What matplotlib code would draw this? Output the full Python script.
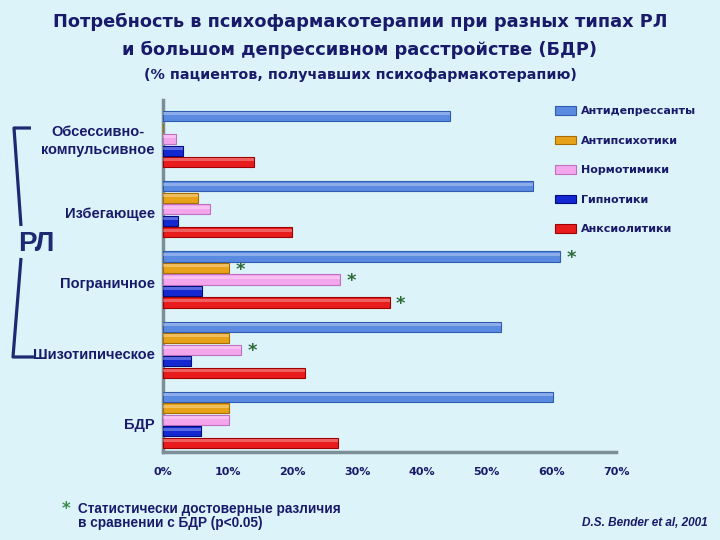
import matplotlib
matplotlib.use("Agg")
import matplotlib.pyplot as plt
from matplotlib.lines import Line2D
from matplotlib.transforms import ScaledTranslation
import numpy as np

categories = ["Обсессивно-\nкомпульсивное", "Избегающее", "Пограничное", "Шизотипическое", "БДР"]
series = ["Антидепрессанты", "Антипсихотики", "Нормотимики", "Гипнотики", "Анксиолитики"]
antidepressants = [44.4, 57.2, 61.4, 52.2, 60.3]
antipsychotics = [0.0, 5.4, 10.2, 10.2, 10.2]
normotimics = [2.0, 7.3, 27.4, 12.0, 10.2]
hypnotics = [3.1, 2.3, 6.0, 4.3, 5.9]
anxiolytics = [14.0, 20.0, 35.0, 22.0, 27.0]
# significance vs БДР (category index, series index)
significant = [(2, 0), (2, 1), (2, 2), (2, 4), (3, 2)]
xticks = [0, 10, 20, 30, 40, 50, 60, 70]
xticklabels = ["0%", "10%", "20%", "30%", "40%", "50%", "60%", "70%"]

values = [antidepressants, antipsychotics, normotimics, hypnotics, anxiolytics]
colors = ["#5b8be0", "#e8a21a", "#f4a6ec", "#1428d2", "#e81c1c"]
edges = ["#2f5bb0", "#a86d00", "#c070c0", "#000c80", "#a00000"]

bg = "#dcf3f9"
navy = "#1a1a6b"

fig = plt.figure(figsize=(7.2, 5.4), dpi=100, facecolor=bg)
ax = fig.add_axes([163/720, 1-452/540, 453/720, 352/540])
ax.set_facecolor(bg)

group_gap = 6.1
bar_h = 0.88
handles = []
for j, (vals, c, ec, name) in enumerate(zip(values, colors, edges, series)):
    pos = np.arange(len(categories)) * group_gap + j
    b = ax.barh(pos, vals, height=bar_h, color=c, edgecolor=ec, linewidth=0.8, label=name, zorder=3)
    handles.append(b)
    # highlight strip for a 3D look
    ax.barh(pos - bar_h*0.22, vals, height=bar_h*0.3, color="white", alpha=0.3, linewidth=0, zorder=4)

for (ci, sj) in significant:
    ax.text(values[sj][ci] + 1.0, ci*group_gap + sj + 0.15, "*", color="#2d6b3a", fontsize=13,
            fontweight="bold", ha="left", va="center", zorder=5)

ax.set_xlim(0, 70)
ax.set_ylim(29.2, -1.4)
ax.set_xticks(xticks)
ax.set_xticklabels(xticklabels, fontsize=8, fontweight="bold", color=navy, family="DejaVu Sans")
ax.tick_params(axis="x", length=0, pad=11)
ax.set_yticks(np.arange(len(categories)) * group_gap + 2.3)
ax.set_yticklabels(categories, fontsize=10.5, fontweight="bold", color=navy, family="Liberation Sans",
                   ha="right", multialignment="center", linespacing=1.35)
ax.tick_params(axis="y", length=0, pad=6)
first = ax.get_yticklabels()[0]
first.set_transform(first.get_transform() + ScaledTranslation(0, 5/100, fig.dpi_scale_trans))
for s in ["top", "right"]:
    ax.spines[s].set_visible(False)
for s in ["left", "bottom"]:
    ax.spines[s].set_color("#7d8f96")
    ax.spines[s].set_linewidth(2.5)

# legend
leg = fig.legend(handles=handles, labels=series, loc="upper left", bbox_to_anchor=(545/720, 1-96/540),
                 frameon=False, prop={"family": "DejaVu Sans", "weight": "bold", "size": 8},
                 labelcolor=navy, handlelength=1.9, handleheight=0.8, handletextpad=0.4,
                 labelspacing=1.75)

# titles
fig.text(0.5, 1-22/540, "Потребность в психофармакотерапии при разных типах РЛ", ha="center", va="center",
         fontsize=12.8, fontweight="bold", color=navy, family="DejaVu Sans")
fig.text(0.5, 1-50/540, "и большом депрессивном расстройстве (БДР)", ha="center", va="center",
         fontsize=12.8, fontweight="bold", color=navy, family="DejaVu Sans")
fig.text(0.5, 1-75/540, "(% пациентов, получавших психофармакотерапию)", ha="center", va="center",
         fontsize=10.3, fontweight="bold", color=navy, family="DejaVu Sans")

# bracket РЛ
lw = 2.3
def fl(xs, ys):
    fig.add_artist(Line2D([x/720 for x in xs], [1-y/540 for y in ys], color="#1c2a72", lw=lw,
                          solid_capstyle="butt"))
fl([31, 14, 21], [128, 128, 226])
fl([21, 13, 36], [258, 357, 357])
fig.text(36/720, 1-244/540, "РЛ", ha="center", va="center", fontsize=20, fontweight="bold",
         color="#1c2a72", family="Liberation Sans")

# footnotes
fig.text(62/720, 1-509/540, "*", ha="left", va="center", fontsize=12, fontweight="bold", color="#3a8a4a")
fig.text(78/720, 1-509/540, "Статистически достоверные различия", ha="left", va="center",
         fontsize=9.8, fontweight="bold", color=navy, family="Liberation Sans")
fig.text(78/720, 1-523/540, "в сравнении с БДР (p<0.05)", ha="left", va="center",
         fontsize=9.8, fontweight="bold", color=navy, family="Liberation Sans")
fig.text(708/720, 1-523/540, "D.S. Bender et al, 2001", ha="right", va="center",
         fontsize=8.5, fontweight="bold", style="italic", color=navy, family="Liberation Sans")

fig.savefig("out.png", dpi=100, facecolor=bg)
